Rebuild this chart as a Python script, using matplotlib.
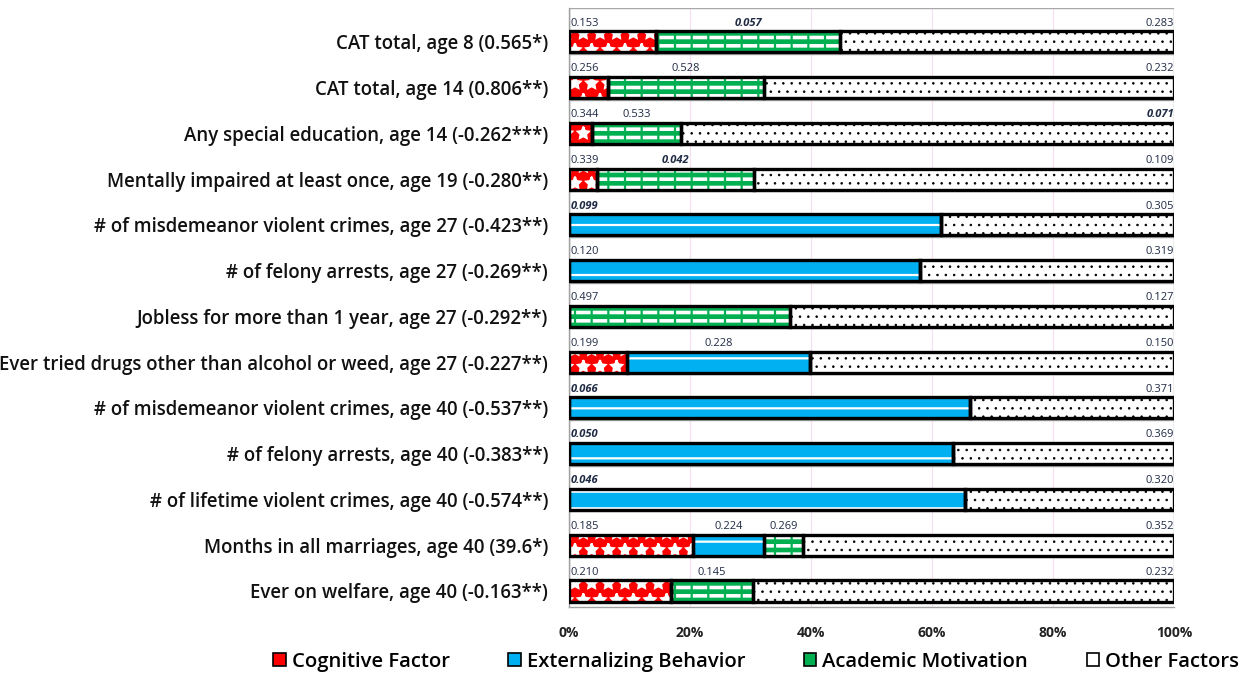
import matplotlib
matplotlib.use("Agg")
import matplotlib as mpl
import matplotlib.pyplot as plt
from matplotlib.patches import Patch, Rectangle

categories = [
    "CAT total, age 8 (0.565*)",
    "CAT total, age 14 (0.806**)",
    "Any special education, age 14 (-0.262***)",
    "Mentally impaired at least once, age 19 (-0.280**)",
    "# of misdemeanor violent crimes, age 27 (-0.423**)",
    "# of felony arrests, age 27 (-0.269**)",
    "Jobless for more than 1 year, age 27 (-0.292**)",
    "Ever tried drugs other than alcohol or weed, age 27 (-0.227**)",
    "# of misdemeanor violent crimes, age 40 (-0.537**)",
    "# of felony arrests, age 40 (-0.383**)",
    "# of lifetime violent crimes, age 40 (-0.574**)",
    "Months in all marriages, age 40 (39.6*)",
    "Ever on welfare, age 40 (-0.163**)",
]

# shares (percent of total)
cognitive     = [14.4, 6.4, 3.8, 4.6, 0, 0, 0, 9.6, 0, 0, 0, 20.5, 16.9]
externalizing = [0, 0, 0, 0, 61.5, 58.0, 0, 30.2, 66.3, 63.5, 65.5, 11.7, 0]
academic      = [30.4, 25.8, 14.7, 26.0, 0, 0, 36.5, 0, 0, 0, 0, 6.5, 13.5]
other         = [55.2, 67.8, 81.5, 69.4, 38.5, 42.0, 63.5, 60.2, 33.7, 36.5, 34.5, 61.3, 69.6]

# value annotations shown above each segment
cog_lbl   = ["0.153", "0.256", "0.344", "0.339", "", "", "", "0.199", "", "", "", "0.185", "0.210"]
ext_lbl   = ["", "", "", "", "0.099", "0.120", "", "0.228", "0.066", "0.050", "0.046", "0.224", ""]
acad_lbl  = ["0.057", "0.528", "0.533", "0.042", "", "", "0.497", "", "", "", "", "0.269", "0.145"]
other_lbl = ["0.283", "0.232", "0.071", "0.109", "0.305", "0.319", "0.127", "0.150", "0.371",
             "0.369", "0.320", "0.352", "0.232"]
italic_lbl = {"0.057", "0.071", "0.042", "0.099", "0.066", "0.050", "0.046"}

series_names = ["Cognitive Factor", "Externalizing Behavior", "Academic Motivation", "Other Factors"]
x_ticks = [0, 20, 40, 60, 80, 100]
x_tick_labels = ["0%", "20%", "40%", "60%", "80%", "100%"]

RED, BLUE, GREEN = "#FF0000", "#00B0F0", "#00B050"
# fill layers per series: list of (face, hatch, hatch colour, hatch linewidth)
layers = [
    [(RED, "*", "white", 1.6)],
    [(BLUE, "-", "white", 1.6)],
    [(GREEN, "", GREEN, 1.0), (GREEN, "--", "white", 2.6), ("none", "|", GREEN, 1.6)],
    [("white", "..", "black", 0.6)],
]

plt.rcParams["font.family"] = ["Open Sans", "DejaVu Sans"]

fig = plt.figure(figsize=(12.5, 6.76), dpi=100)
ax = fig.add_axes([569 / 1250, 1 - 607 / 676, 605 / 1250, 599 / 676])

n = len(categories)
ys = list(range(n))
bh = 0.46
data = [cognitive, externalizing, academic, other]
labels = [cog_lbl, ext_lbl, acad_lbl, other_lbl]

for xv in x_ticks[1:-1]:
    ax.axvline(xv, color="#F6DDF0", lw=0.8, zorder=0)

for i in ys:
    ax.add_patch(Rectangle((0, i - 0.74), 100, 0.98, facecolor="none",
                           edgecolor="#A8A8A8", lw=1.0, zorder=1))

lefts = [0.0] * n
for s, vals in enumerate(data):
    for face, hatch, hc, hlw in layers[s]:
        with mpl.rc_context({"hatch.linewidth": hlw}):
            ax.barh(ys, vals, left=lefts, height=bh, color=face, hatch=hatch or None,
                    edgecolor=hc, linewidth=0, zorder=2)
    ax.barh(ys, vals, left=lefts, height=bh, color="none",
            edgecolor="black", linewidth=2.4, zorder=3)
    for i in ys:
        lbl = labels[s][i]
        if lbl and vals[i] > 0:
            first = all(data[k][i] == 0 for k in range(s))
            if s == 3:
                xpos, ha = 100, "right"
            elif first:
                xpos, ha = 0.2, "left"
            else:
                xpos, ha = lefts[i] + vals[i] / 2, "center"
            it = lbl in italic_lbl
            ax.text(xpos, i - bh / 2 - 0.06, lbl, ha=ha, va="bottom", fontsize=8,
                    color="#1F2A44", style="italic" if it else "normal",
                    fontweight="bold" if it else "normal", zorder=4)
    lefts = [lefts[i] + vals[i] for i in ys]

ax.set_xlim(0, 100)
ax.set_ylim(12.35, -0.74)
ax.set_yticks(ys)
ax.set_yticklabels(categories, fontsize=13.4, fontweight="semibold", color="#111111")
ax.set_xticks(x_ticks)
ax.set_xticklabels(x_tick_labels, fontsize=10, fontweight="bold", color="#222222")
ax.tick_params(axis="y", length=0, pad=15)
ax.tick_params(axis="x", length=0, pad=14)
for sp in ["top", "right"]:
    ax.spines[sp].set_visible(False)
for sp in ["left", "bottom"]:
    ax.spines[sp].set_color("#A0A0A0")
    ax.spines[sp].set_linewidth(1.0)

handles = [Patch(facecolor=layers[k][0][0], edgecolor="black", lw=1.2) for k in range(4)]
leg = fig.legend(handles, series_names, loc="center", bbox_to_anchor=(0.605, 0.021), ncol=4,
                 frameon=False, fontsize=14.6, handlelength=0.6, handleheight=0.6,
                 handletextpad=0.3, columnspacing=2.9)
for t in leg.get_texts():
    t.set_fontweight("semibold")

fig.savefig("out.png", dpi=100)
